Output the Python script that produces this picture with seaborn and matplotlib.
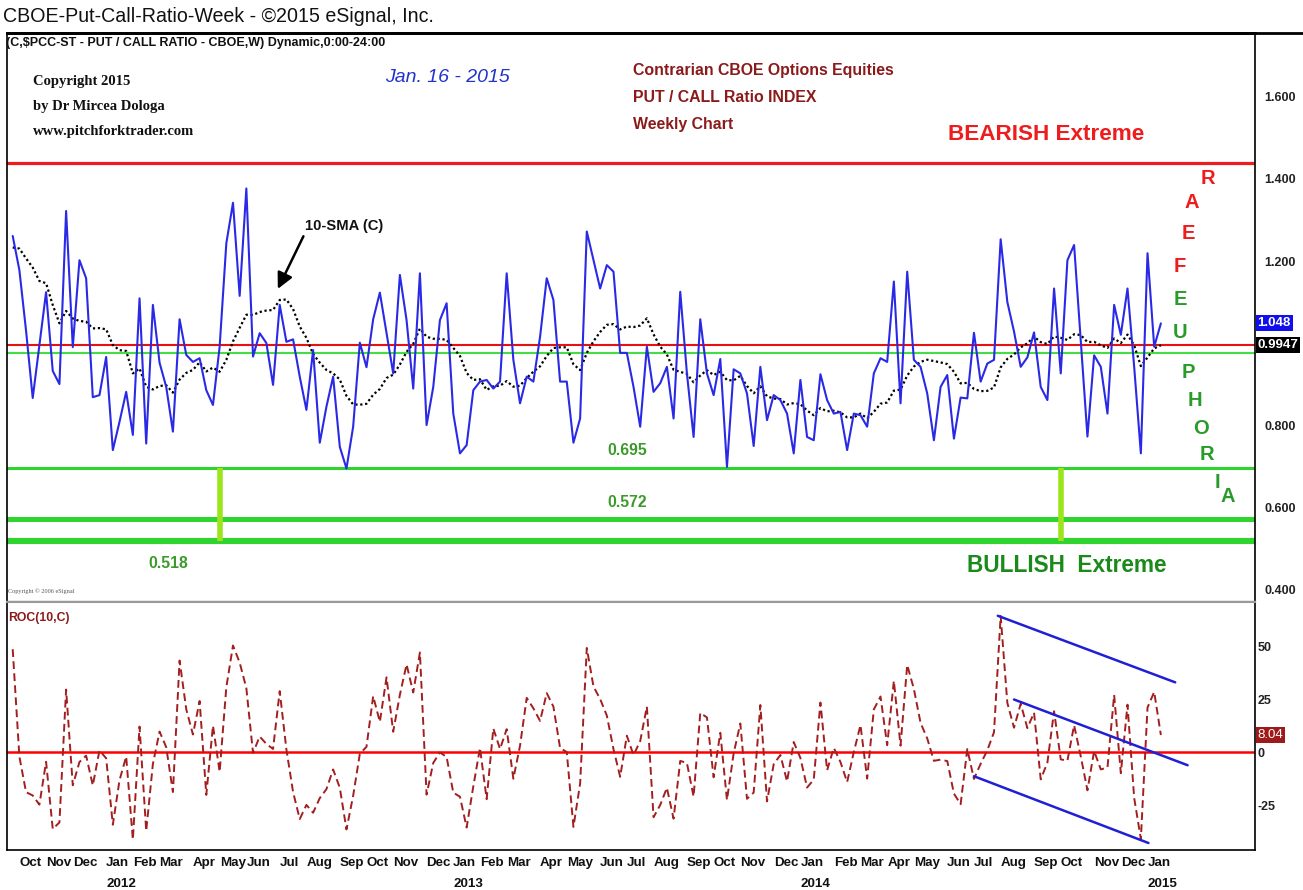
import numpy as np
import pandas as pd
import matplotlib
matplotlib.use("Agg")
import matplotlib.pyplot as plt
from matplotlib.transforms import blended_transform_factory
import seaborn as sns

# ---------------- data ----------------
end_date = "2015-01-16"
# weekly CBOE put/call ratio (close), visible window
ratio = [
    1.261, 1.178, 1.030, 0.866, 0.995, 1.124, 0.932, 0.900, 1.322, 0.990,
    1.202, 1.158, 0.868, 0.873, 0.966, 0.739, 0.808, 0.881, 0.776, 1.109,
    0.755, 1.093, 0.952, 0.893, 0.784, 1.058, 0.971, 0.954, 0.963, 0.885,
    0.849, 0.991, 1.243, 1.342, 1.115, 1.377, 0.967, 1.024, 1.000, 0.898,
    1.093, 1.003, 1.009, 0.918, 0.837, 0.983, 0.757, 0.845, 0.918, 0.747,
    0.694, 0.796, 1.001, 0.941, 1.058, 1.123, 1.024, 0.926, 1.166, 1.056,
    0.889, 1.170, 0.800, 0.893, 1.056, 1.097, 0.828, 0.731, 0.751, 0.885,
    0.906, 0.910, 0.889, 0.906, 1.170, 0.959, 0.853, 0.918, 0.906, 1.015,
    1.158, 1.105, 0.906, 0.906, 0.757, 0.816, 1.272, 1.202, 1.133, 1.190,
    1.174, 0.976, 0.976, 0.893, 0.796, 0.991, 0.881, 0.902, 0.942, 0.816,
    1.125, 0.926, 0.771, 1.058, 0.926, 0.873, 0.961, 0.698, 0.936, 0.926,
    0.877, 0.749, 0.942, 0.812, 0.873, 0.861, 0.828, 0.731, 0.910, 0.771,
    0.763, 0.924, 0.861, 0.828, 0.832, 0.739, 0.828, 0.824, 0.796, 0.926,
    0.963, 0.954, 1.150, 0.853, 1.174, 0.959, 0.942, 0.877, 0.763, 0.893,
    0.922, 0.767, 0.867, 0.865, 1.025, 0.906, 0.950, 0.959, 1.253, 1.100,
    1.028, 0.942, 0.965, 1.026, 0.893, 0.861, 1.133, 0.926, 1.202, 1.239,
    1.007, 0.772, 0.970, 0.942, 0.828, 1.093, 1.020, 1.133, 0.942, 0.731,
    1.219, 0.991, 1.048,
]
# the 10 weeks before the visible window (needed for the 10-SMA and ROC(10))
prior_ratio = [0.849, 1.204, 1.270, 1.089, 1.323, 1.178, 1.463, 1.347, 1.021, 1.174]

sma_period = 10
roc_period = 10

bearish_level = 1.44
green_mid_level = 0.975
euphoria_levels = [0.695, 0.572, 0.518]
euphoria_labels = ["0.695", "0.572", "0.518"]
marker_weeks = ["2012-05-04", "2014-10-03"]

sma_arrow_tip_date = "2012-07-04"
sma_arrow_tip_value = 1.132

channel_upper_dates = ["2014-07-29", "2015-01-31"]
channel_upper_vals = [64.3, 32.9]
channel_mid_dates = ["2014-08-15", "2015-02-13"]
channel_mid_vals = [24.8, -6.2]
channel_low_dates = ["2014-07-04", "2015-01-03"]
channel_low_vals = [-11.4, -42.9]

price_ticks = [0.4, 0.6, 0.8, 1.2, 1.4, 1.6]
price_tick_labels = ["0.400", "0.600", "0.800", "1.200", "1.400", "1.600"]
roc_ticks = [-25, 0, 25, 50]
roc_tick_labels = ["-25", "0", "25", "50"]

# ---------------- derived series ----------------
all_vals = prior_ratio + ratio
all_dates = pd.date_range(end=end_date, periods=len(all_vals), freq="7D")
s = pd.Series(all_vals, index=all_dates)
sma_all = s.rolling(sma_period).mean()
roc_all = (s / s.shift(roc_period) - 1.0) * 100.0
n = len(ratio)
dates = all_dates[-n:]
df = pd.DataFrame({
    "date": dates,
    "ratio": s.values[-n:],
    "sma": sma_all.values[-n:],
    "roc": roc_all.values[-n:],
})
last_ratio = df["ratio"].iloc[-1]
last_sma = df["sma"].iloc[-1]
last_roc = df["roc"].iloc[-1]

# ---------------- style ----------------
sns.set_style("white")
SANS = "Liberation Sans"
SERIF = "Liberation Serif"
plt.rcParams["font.family"] = [SANS, "DejaVu Sans"]

W, H = 1303, 890
fig = plt.figure(figsize=(W / 100, H / 100), dpi=100)
fig.patch.set_facecolor("white")


def fx(x):
    return x / W


def fy(y):
    return 1 - y / H


def ftext(x, y, t, size, **kw):
    kw.setdefault("va", "center")
    kw.setdefault("ha", "left")
    fam = kw.pop("family", SANS)
    return fig.text(fx(x), fy(y), t, fontsize=size, family=fam, **kw)


L, R = 7, 1255
ax1 = fig.add_axes([fx(L), fy(601), (R - L) / W, (601 - 33) / H])
ax2 = fig.add_axes([fx(L), fy(850), (R - L) / W, (850 - 602) / H])

start = dates[0]
step = pd.Timedelta(days=7)
xmin = start - step * 0.854
xmax = start + step * 186.1
for ax in (ax1, ax2):
    ax.set_xlim(xmin, xmax)
    ax.set_facecolor("white")

TICKFS = 9.0

# ---------------- main panel ----------------
BLUE = "#2a2ae6"
GREEN = "#2fd42f"
ax1.axhline(bearish_level, color="#ee1c1c", lw=2.3, zorder=2)
ax1.axhline(last_sma, color="#e81010", lw=1.5, zorder=2)
ax1.axhline(green_mid_level, color="#44dd44", lw=1.5, zorder=2)
for lvl, lw in zip(euphoria_levels, [2.2, 3.6, 4.4]):
    ax1.axhline(lvl, color=GREEN, lw=lw, zorder=2)
mw = pd.to_datetime(marker_weeks)
ax1.vlines(mw, min(euphoria_levels), max(euphoria_levels), color="#9be51a", lw=4, zorder=3)

sns.lineplot(data=df, x="date", y="ratio", ax=ax1, color=BLUE, lw=1.5, zorder=5)
sns.lineplot(data=df, x="date", y="sma", ax=ax1, color="black", lw=1.6,
             linestyle=(0, (1, 1.2)), zorder=4)

ax1.set_ylim(0.371, 1.756)
ax1.yaxis.tick_right()
ax1.set_yticks(price_ticks)
ax1.set_yticklabels(price_tick_labels, fontsize=TICKFS, fontweight="bold", color="#222222")
ax1.tick_params(axis="y", length=0, pad=7)
ax1.set_xticks([])
ax1.set_xlabel("")
ax1.set_ylabel("")
for sp in ["left", "right", "top"]:
    ax1.spines[sp].set_color("black")
    ax1.spines[sp].set_linewidth(1.2)
ax1.spines["top"].set_linewidth(2)
ax1.spines["bottom"].set_color("#9a9a9a")
ax1.spines["bottom"].set_linewidth(1.0)

# current value boxes on the price axis
ytr1 = blended_transform_factory(ax1.transAxes, ax1.transData)
ax1.text(1.002, last_ratio, f"{last_ratio:.3f}", transform=ytr1, ha="left", va="center",
         fontsize=9.5, fontweight="bold", color="white", zorder=10,
         bbox=dict(boxstyle="square,pad=0.15", fc="#1010ee", ec="none"))
ax1.text(1.002, last_sma, f"{last_sma:.4f}", transform=ytr1, ha="left", va="center",
         fontsize=9.5, fontweight="bold", color="white", zorder=10,
         bbox=dict(boxstyle="square,pad=0.15", fc="black", ec="none"))

# 10-SMA arrow annotation
ax1.annotate("10-SMA (C)", xy=(pd.Timestamp(sma_arrow_tip_date), sma_arrow_tip_value),
             xycoords="data", xytext=(305, H - 226), textcoords="figure pixels",
             ha="left", va="center", fontsize=10.6, fontweight="bold", color="#111111",
             arrowprops=dict(arrowstyle="-|>,head_length=0.9,head_width=0.45", lw=1.8,
                             color="black", relpos=(0.0, 0.0), shrinkA=0, shrinkB=0))

# ---------------- ROC panel ----------------
RED_DARK = "#a31f1f"
ax2.axhline(0, color="#ff0000", lw=1.8, zorder=2)
sns.lineplot(data=df, x="date", y="roc", ax=ax2, color=RED_DARK, lw=1.4,
             linestyle=(0, (4, 2.2)), zorder=4)
for dts, vals in [(channel_upper_dates, channel_upper_vals),
                  (channel_mid_dates, channel_mid_vals),
                  (channel_low_dates, channel_low_vals)]:
    ax2.plot(pd.to_datetime(dts), vals, color="#1f1fd6", lw=1.8, zorder=5)
ax2.set_ylim(-46.2, 70.8)
ax2.yaxis.tick_right()
ax2.set_yticks(roc_ticks)
ax2.set_yticklabels(roc_tick_labels, fontsize=TICKFS, fontweight="bold", color="#222222")
ax2.tick_params(axis="y", length=0, pad=2)
ax2.set_xlabel("")
ax2.set_ylabel("")
for sp in ["left", "right", "bottom"]:
    ax2.spines[sp].set_color("black")
    ax2.spines[sp].set_linewidth(1.2)
ax2.spines["top"].set_color("#9a9a9a")
ax2.spines["top"].set_linewidth(1.5)
ytr2 = blended_transform_factory(ax2.transAxes, ax2.transData)
ax2.text(1.002, last_roc, f"{last_roc:.2f}", transform=ytr2, ha="left", va="center",
         fontsize=9.5, color="white", zorder=10,
         bbox=dict(boxstyle="square,pad=0.15", fc="#9e1a1a", ec="none"))

# month ticks (first week of each month) and years
ds = pd.Series(dates)
first_of_month = ds.groupby([ds.dt.year, ds.dt.month]).first().tolist()[1:]
ax2.set_xticks(first_of_month)
ax2.set_xticklabels([d.strftime("%b") for d in first_of_month], ha="left",
                    fontsize=9.6, fontweight="bold", color="#111111")
ax2.tick_params(axis="x", length=0, pad=5)
xtr2 = blended_transform_factory(ax2.transData, ax2.transAxes)
for d in first_of_month:
    if d.month == 1:
        ax2.text(d, -0.112, str(d.year), transform=xtr2, ha="left", va="top",
                 fontsize=9.6, fontweight="bold", color="#111111", clip_on=False)

# ---------------- texts ----------------
fig.add_artist(plt.Line2D([fx(L), 1.0], [fy(33), fy(33)], color="black", lw=2))
ftext(3, 16, "CBOE-Put-Call-Ratio-Week - ©2015 eSignal, Inc.", 14.1, color="#111111")
ftext(6, 43, "(C,$PCC-ST - PUT / CALL RATIO - CBOE,W) Dynamic,0:00-24:00", 9.0,
      fontweight="bold", color="#111111")
for i, t in enumerate(["Copyright 2015", "by Dr Mircea Dologa", "www.pitchforktrader.com"]):
    ftext(33, 82 + 24.5 * i, t, 10.5, family=SERIF, fontweight="bold", color="#111111")
ftext(385, 77, "Jan. 16 - 2015", 14, style="italic", color="#2233cc")
for i, t in enumerate(["Contrarian CBOE Options Equities", "PUT / CALL Ratio INDEX", "Weekly Chart"]):
    ftext(633, 71 + 26.5 * i, t, 11.4, fontweight="bold", color="#8b1a1a")
ftext(948, 134, "BEARISH Extreme", 16.2, fontweight="bold", color="#ee1c1c")
ftext(967, 566, "BULLISH  Extreme", 16.3, fontweight="bold", color="#1a8a1a")
ftext(607, 451, euphoria_labels[0], 11.3, fontweight="bold", color="#3a9a2a")
ftext(607, 503, euphoria_labels[1], 11.3, fontweight="bold", color="#3a9a2a")
ftext(148, 563, euphoria_labels[2], 11.3, fontweight="bold", color="#3a9a2a")
ftext(8, 591, "Copyright © 2006 eSignal", 4.5, family=SERIF, color="#555555")
ftext(8, 618, "ROC(10,C)", 8.8, fontweight="bold", color="#8b1a1a")

letters = [("R", 1208, 179, "#ee1c1c"), ("A", 1192, 203, "#ee1c1c"),
           ("E", 1188, 234, "#ee1c1c"), ("F", 1180, 266, "#ee1c1c"),
           ("E", 1180, 300, "#2a9a2a"), ("U", 1180, 332, "#2a9a2a"),
           ("P", 1188, 372, "#2a9a2a"), ("H", 1195, 401, "#2a9a2a"),
           ("O", 1201, 428, "#2a9a2a"), ("R", 1207, 454, "#2a9a2a"),
           ("I", 1217, 482, "#2a9a2a"), ("A", 1228, 497, "#2a9a2a")]
for ch, x, y, c in letters:
    ftext(x, y, ch, 14.5, ha="center", color=c, fontweight="bold")

fig.savefig("out.png", dpi=100, facecolor="white")
